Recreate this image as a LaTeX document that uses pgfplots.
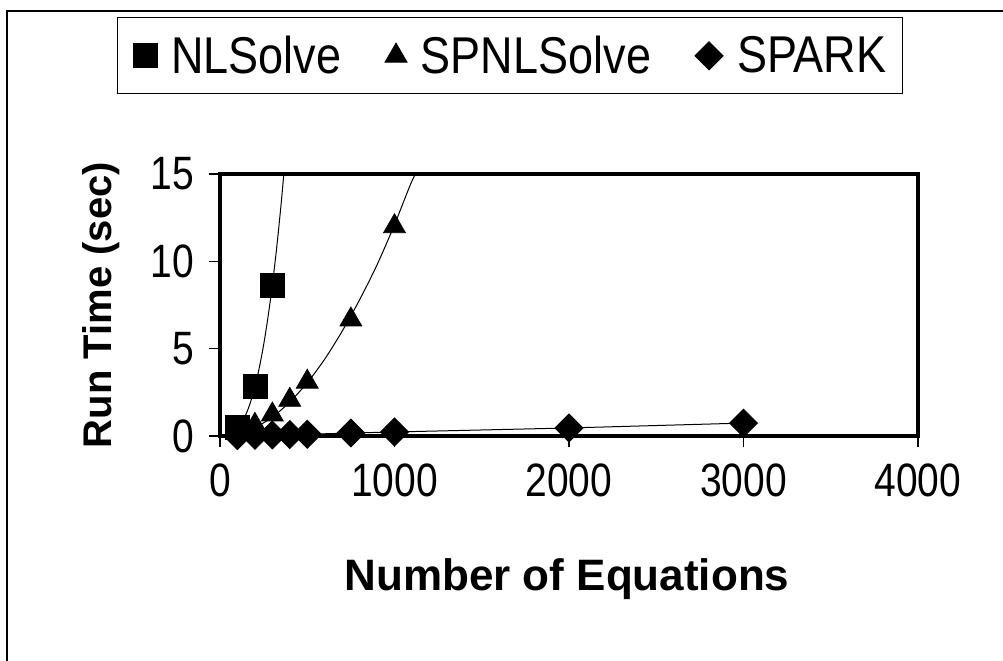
\documentclass[border=0pt]{standalone}
\usepackage{graphicx}
\usepackage{pgfplots}
\pgfplotsset{compat=1.18}
\usepackage{fontspec}
\setmainfont{Liberation Sans}
\begin{document}
\begin{tikzpicture}
\path[use as bounding box] (0,0) rectangle (501.5pt,330pt);
\draw[line width=1pt] (3.5pt,-2pt) -- (3.5pt,324.5pt) -- (503pt,324.5pt);
\begin{axis}[
  at={(110pt,112pt)}, anchor=south west,
  scale only axis, width=349pt, height=131pt,
  xmin=0, xmax=4000, ymin=0, ymax=15,
  xtick={0,1000,2000,3000,4000}, ytick={0,5,10,15},
  xtick pos=lower, ytick pos=left,
  axis line style={line width=2pt},
  tick align=outside, major tick length=5.5pt,
  tick style={line width=0.6pt, black},
  ticklabel style={font=\fontsize{19.5}{23}\selectfont},
  xticklabel style={yshift=-5pt},
  yticklabel style={xshift=-4pt},
  /pgf/number format/assume math mode=true,
  /pgf/number format/1000 sep={},
  xticklabel={\scalebox{1}[1.2]{\pgfmathprintnumber{\tick}}},
  yticklabel={\scalebox{1}[1.2]{\pgfmathprintnumber{\tick}}},
  xlabel={Number of Equations}, ylabel={Run Time (sec)},
  xlabel style={font=\bfseries\fontsize{22}{26}\selectfont, at={(axis description cs:0.4971,-0.545)}, anchor=center},
  ylabel style={font=\bfseries\fontsize{20}{24}\selectfont, at={(axis description cs:-0.1705,0.5)}, anchor=center},
  legend columns=-1,
  legend style={at={(0.415,1.451)}, anchor=center, draw=black, line width=0.5pt,
    inner xsep=8pt, inner ysep=8.8pt,
    font=\fontsize{22.5}{26}\selectfont,
    nodes={inner sep=0pt},
    /tikz/every odd column/.append style={column sep=7pt},
    /tikz/every even column/.append style={column sep=22pt}},
]
% trend lines
\addplot[black, line width=0.5pt, smooth, forget plot] coordinates {
(110,0.54)(120,0.68)(150,1.27)(175,1.94)(200,2.81)(225,3.90)(250,5.22)(275,6.80)(300,8.65)(325,10.8)(350,13.26)(375,16.05)};
\addplot[black, line width=0.5pt, smooth, forget plot] coordinates {
(100,0.12)(200,0.48)(300,1.08)(400,1.95)(500,3.05)(600,4.4)(700,6.0)(800,7.8)(900,9.8)(1000,12.1)(1100,14.6)(1150,15.5)};
\addplot[black, line width=0.5pt, forget plot] coordinates {
(100,0.02)(200,0.04)(300,0.06)(400,0.08)(500,0.1)(750,0.17)(1000,0.23)(2000,0.46)(3000,0.74)};
% data
\addplot[only marks, mark=square*, mark size=6pt, black] coordinates {(100,0.5)(200,2.82)(300,8.65)};
\addlegendentry{\scalebox{1}[1.15]{NLSolve}}
\addplot[only marks, mark=triangle*, mark size=6.3pt, black] coordinates {(100,0.25)(200,0.63)(300,1.22)(400,2.06)(500,3.1)(750,6.66)(1000,12.0)};
\addlegendentry{\scalebox{1}[1.15]{SPNLSolve}}
\addplot[only marks, mark=square*, mark size=4.95pt, mark options={rotate=45}, black] coordinates {(100,0.02)(200,0.04)(300,0.06)(400,0.08)(500,0.1)(750,0.17)(1000,0.23)(2000,0.46)(3000,0.74)};
\addlegendentry{\scalebox{1}[1.15]{SPARK}}
\end{axis}
\end{tikzpicture}
\end{document}
